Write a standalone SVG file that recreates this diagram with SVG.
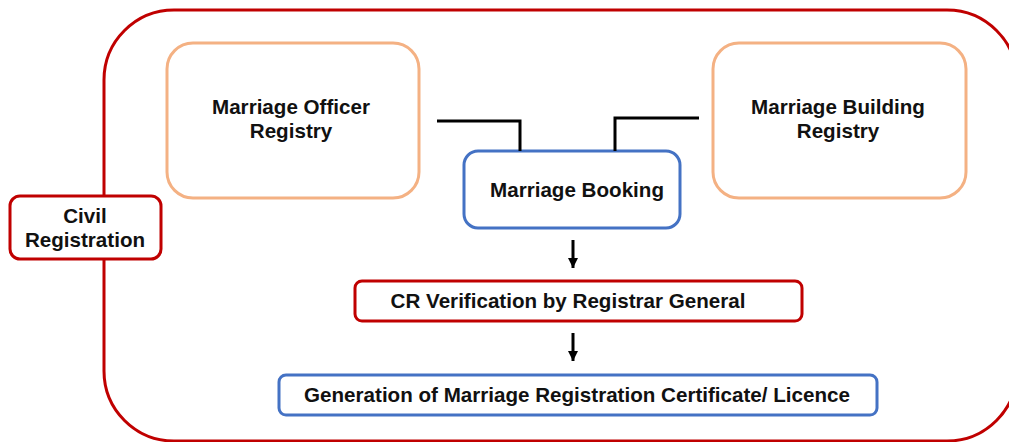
<svg xmlns="http://www.w3.org/2000/svg" width="1009" height="442" viewBox="0 0 1009 442">
  <style>
    .lbl { font-family: "Liberation Sans", Arial, sans-serif; font-weight: bold; font-size: 20.6px; fill: #111; text-anchor: middle; }
    .red { fill: #fff; stroke: #C00000; stroke-width: 3; }
    .blue { fill: #fff; stroke: #4472C4; stroke-width: 3; }
    .orange { fill: #fff; stroke: #F4B183; stroke-width: 3; }
    .link { fill: none; stroke: #000; stroke-width: 3; }
  </style>
  <defs>
    <marker id="head" viewBox="0 0 10 10" refX="10" refY="5" markerWidth="3.4" markerHeight="3.4" markerUnits="strokeWidth" orient="auto">
      <path d="M0,0 L10,5 L0,10 Z" fill="#000"/>
    </marker>
  </defs>
  <rect width="1009" height="442" fill="#fff"/>

  <!-- outer civil registration boundary -->
  <g id="boundary">
    <rect class="red" x="104" y="10" width="913" height="431" rx="70" ry="70"/>
  </g>

  <g id="civil-registration">
    <rect class="red" x="10" y="196" width="151" height="63" rx="10"/>
    <text class="lbl" x="85" y="223">Civil</text>
    <text class="lbl" x="85" y="247">Registration</text>
  </g>

  <g id="officer-registry">
    <rect class="orange" x="167" y="43" width="252" height="155" rx="26"/>
    <text class="lbl" x="291" y="114">Marriage Officer</text>
    <text class="lbl" x="291" y="138">Registry</text>
  </g>

  <g id="building-registry">
    <rect class="orange" x="713" y="43" width="253" height="155" rx="26"/>
    <text class="lbl" x="838" y="114">Marriage Building</text>
    <text class="lbl" x="838" y="138">Registry</text>
  </g>

  <g id="booking">
    <rect class="blue" x="464" y="151" width="216" height="77" rx="14"/>
    <text class="lbl" x="577" y="197">Marriage Booking</text>
  </g>

  <g id="verification">
    <rect class="red" x="355" y="281" width="447" height="40" rx="7"/>
    <text class="lbl" x="568" y="308">CR Verification by Registrar General</text>
  </g>

  <g id="certificate">
    <rect class="blue" x="279" y="375" width="598" height="40" rx="7"/>
    <text class="lbl" x="577" y="402">Generation of Marriage Registration Certificate/ Licence</text>
  </g>

  <g id="connectors">
    <polyline class="link" points="437,121 520,121 520,151"/>
    <polyline class="link" points="699,118 615,118 615,151"/>
    <line class="link" x1="573" y1="240" x2="573" y2="268" marker-end="url(#head)"/>
    <line class="link" x1="573" y1="333" x2="573" y2="361" marker-end="url(#head)"/>
  </g>
</svg>
